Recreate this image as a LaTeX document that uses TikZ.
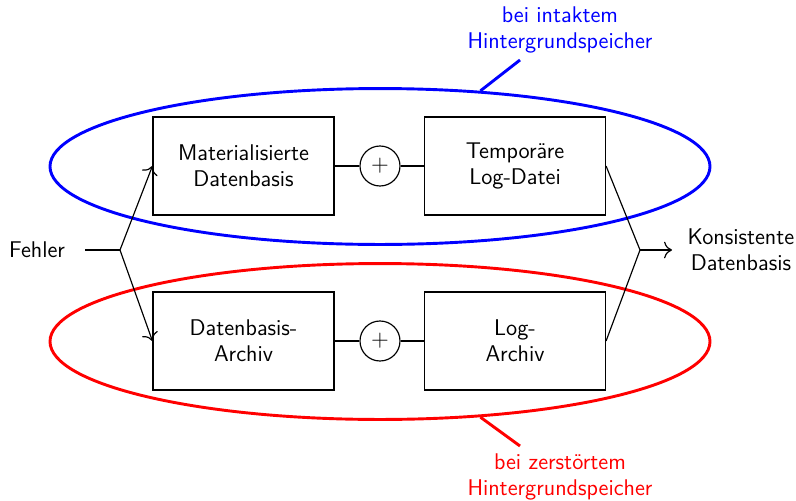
\documentclass[tikz,border=0pt]{standalone}
\usetikzlibrary{shapes.geometric, arrows.meta}
\begin{document}
\begin{tikzpicture}[x=0.515pt,y=-0.515pt,
  font=\sffamily\fontsize{11.7pt}{13.4pt}\selectfont, line width=0.6pt,
  blk/.style={draw, minimum width=93.2pt, minimum height=50.5pt, align=center, inner sep=0pt},
  sum/.style={draw, circle, minimum size=20.6pt, inner sep=0pt},
  zone/.style={draw, ellipse, line width=1.5pt, minimum width=339.9pt, minimum height=80.3pt, inner sep=0pt},
  tag/.style={line width=1.5pt},
  flow/.style={-{To[scale=1.4]}}]
\useasboundingbox (0,0) rectangle (796,500);

% storage zones
\node[zone, blue] (topzone) at (380,166.5) {};
\node[zone, red]  (botzone) at (380,341.5) {};

% upper path
\node[blk] (mat) at (243.5,166) {Materialisierte\\Datenbasis};
\node[sum] (sum1) at (380,166) {$+$};
\node[blk] (tmp) at (515,166) {Tempor\"are\\Log-Datei};

% lower path
\node[blk] (arch) at (243.5,341) {Datenbasis-\\Archiv};
\node[sum] (sum2) at (380,341) {$+$};
\node[blk] (larch) at (515,341) {Log-\\Archiv};

\draw (mat) -- (sum1) -- (tmp);
\draw (arch) -- (sum2) -- (larch);

% input fork
\node[anchor=east, inner xsep=10pt] (fehler) at (85,250) {Fehler};
\coordinate (lf) at (120,250);
\draw (fehler.east) -- (lf);
\draw[flow] (lf) -- (mat.west);
\draw[flow] (lf) -- (arch.west);

% output join
\coordinate (rf) at (640,250);
\node[anchor=west, inner xsep=7.7pt, align=center] (kons) at (672,250) {Konsistente\\Datenbasis};
\draw (tmp.east) -- (rf);
\draw (larch.east) -- (rf);
\draw[flow] (rf) -- (kons.west);

% zone labels
\node[blue, align=center] (bluelbl) at (560,30) {bei intaktem\\Hintergrundspeicher};
\coordinate (bt) at (520,60);
\draw[tag, blue] (topzone.37) -- (bt);

\node[red, align=center] (redlbl) at (560,477) {bei zerst\"ortem\\Hintergrundspeicher};
\coordinate (rt) at (520,446);
\draw[tag, red] (botzone.-37) -- (rt);
\end{tikzpicture}
\end{document}
